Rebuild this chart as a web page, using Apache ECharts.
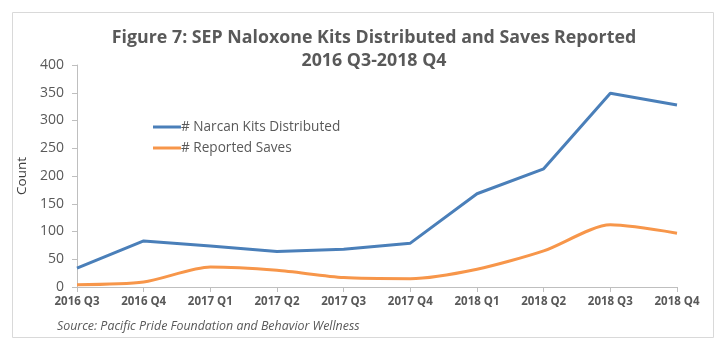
<!DOCTYPE html>
<html><head><meta charset="utf-8">
<script src="https://cdn.jsdelivr.net/npm/echarts@6/dist/echarts.min.js"></script>
<style>html,body{margin:0;padding:0;background:#fff}#c{width:726px;height:351px}</style>
</head><body><div id="c"></div>
<script>
const categories = ['2016 Q3','2016 Q4','2017 Q1','2017 Q2','2017 Q3','2017 Q4','2018 Q1','2018 Q2','2018 Q3','2018 Q4'];
const kits = [34, 83, 74, 64, 68, 79, 168, 213, 349, 328];
const saves = [4, 9, 36, 30, 17, 15, 32, 65, 112, 97];
const yTicks = [0, 50, 100, 150, 200, 250, 300, 350, 400];

const chart = echarts.init(document.getElementById('c'));
const txt = '#595959';
const font = 'Open Sans';
chart.setOption({
  animation: false,
  title: {
    text: 'Figure 7: SEP Naloxone Kits Distributed and Saves Reported\n2016 Q3-2018 Q4',
    left: 369, top: 21, textAlign: 'center',
    textStyle: {fontFamily: font, fontWeight: 'bold', fontSize: 17.8, color: txt, lineHeight: 23}
  },
  graphic: [
    {type: 'rect', shape: {x: 12.5, y: 12.5, width: 701, height: 325}, style: {fill: 'none', stroke: '#d9d9d9', lineWidth: 1}, silent: true},
    {type: 'text', left: 57, top: 320, style: {text: 'Source: Pacific Pride Foundation and Behavior Wellness', font: 'italic 12.4px "Open Sans"', fill: txt}}
  ],
  legend: {
    orient: 'vertical', left: 148, top: 115, itemGap: 7, itemWidth: 28, itemHeight: 3,
    icon: 'rect',
    textStyle: {fontFamily: font, fontSize: 13.6, color: txt, padding: [0,0,0,-5]},
    data: ['# Narcan Kits Distributed', '# Reported Saves']
  },
  grid: {left: 77, right: 49, top: 65, bottom: 64},
  xAxis: {
    type: 'category', data: categories, boundaryGap: false,
    axisLine: {lineStyle: {color: '#bfbfbf'}},
    axisTick: {length: 5, lineStyle: {color: '#bfbfbf'}},
    axisLabel: {fontFamily: font, fontWeight: 'bold', fontSize: 11.5, color: txt, margin: 9}
  },
  yAxis: {
    type: 'value', min: 0, max: 400, interval: 50,
    name: 'Count', nameLocation: 'middle', nameGap: 43,
    nameTextStyle: {fontFamily: font, fontSize: 13.5, color: '#404040'},
    axisLine: {show: true, lineStyle: {color: '#bfbfbf'}},
    axisTick: {show: true, length: 5, lineStyle: {color: '#bfbfbf'}},
    splitLine: {show: false},
    axisLabel: {fontFamily: font, fontSize: 14, color: txt, margin: 13, formatter: v => yTicks.includes(v) ? String(v) : ''}
  },
  series: [
    {name: '# Narcan Kits Distributed', type: 'line', data: kits, symbol: 'none', lineStyle: {width: 3, color: '#4a7fb9'}, itemStyle: {color: '#4a7fb9'}},
    {name: '# Reported Saves', type: 'line', data: saves, symbol: 'none', smooth: 0.25, lineStyle: {width: 3, color: '#f7964a'}, itemStyle: {color: '#f7964a'}}
  ]
});
</script></body></html>
